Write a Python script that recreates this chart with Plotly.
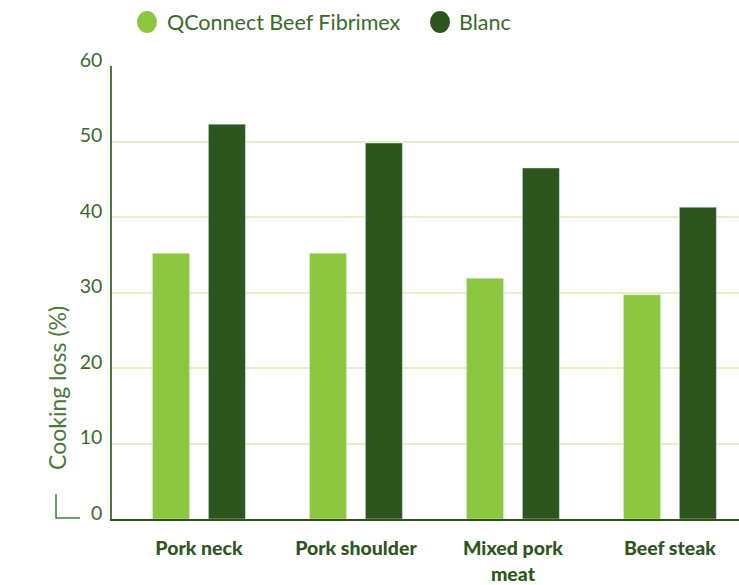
import plotly.graph_objects as go

categories = ["Pork neck", "Pork shoulder", "Mixed pork<br>meat", "Beef steak"]
series_names = ["QConnect Beef Fibrimex", "Blanc"]
fibrimex = [35.2, 35.2, 31.9, 29.7]
blanc = [52.3, 49.8, 46.5, 41.3]
y_ticks = [0, 10, 20, 30, 40, 50, 60]

LIGHT = "#8dc63f"
DARK = "#2d561e"
TEXT = "#3a6a2a"
GRID = "#e6efc6"
FONT = "Lato"

W, H = 739, 585
L, R, T, B = 112, 0, 66, 66
PW, PH = W - L - R, H - T - B


def px(xp):
    return (xp - L) / PW


def py(yp):
    return (H - B - yp) / PH


fig = go.Figure()
fig.add_trace(go.Bar(x=categories, y=fibrimex, name=series_names[0], marker_color=LIGHT,
                     width=0.236, offset=-0.296, showlegend=False))
fig.add_trace(go.Bar(x=categories, y=blanc, name=series_names[1], marker_color=DARK,
                     width=0.236, offset=0.06, showlegend=False))

fig.update_layout(
    width=W, height=H,
    margin=dict(l=L, r=R, t=T, b=B),
    paper_bgcolor="white", plot_bgcolor="white",
    font=dict(family=FONT, color=TEXT, size=18),
    showlegend=False,
)
fig.update_xaxes(type="category", range=[-0.554, 3.44], showgrid=False, automargin=False,
                 showline=True, linecolor=DARK, linewidth=2, ticks="",
                 ticklabelstandoff=11,
                 tickfont=dict(family=FONT, size=19.5, color=DARK, weight=900))
fig.update_yaxes(range=[0, 60], tickvals=y_ticks, showgrid=True, gridcolor=GRID, gridwidth=2,
                 automargin=False,
                 showline=True, linecolor="#4d7a3a", linewidth=1.5, ticks="",
                 ticklabelstandoff=4, ticklabelshift=-6, zeroline=False,
                 tickfont=dict(family=FONT, size=19.5, color=TEXT))

# y-axis title
fig.add_annotation(text="Cooking loss (%)", textangle=-90, xref="paper", yref="paper",
                   x=px(57), y=py(388), xanchor="center", yanchor="middle", showarrow=False,
                   font=dict(family=FONT, size=23, color="#4a7a34"))

# corner mark near the axis title
fig.add_shape(type="path", xref="paper", yref="paper",
              path=f"M {px(56)},{py(494)} L {px(56)},{py(518)} L {px(80)},{py(518)}",
              line=dict(color="#4a7a34", width=1.5))

# custom legend (circles + labels)
legend_items = [(147, 165, series_names[0], LIGHT), (440, 457, series_names[1], DARK)]
for cx, tx, nm, col in legend_items:
    fig.add_shape(type="circle", xref="paper", yref="paper",
                  x0=px(cx - 10), x1=px(cx + 10), y0=py(33), y1=py(11),
                  fillcolor=col, line=dict(width=0))
    fig.add_annotation(text=nm, xref="paper", yref="paper", x=px(tx), y=py(22),
                       xanchor="left", yanchor="middle", showarrow=False,
                       font=dict(family=FONT, size=21.5, color=TEXT))

fig.write_html("out.html")
